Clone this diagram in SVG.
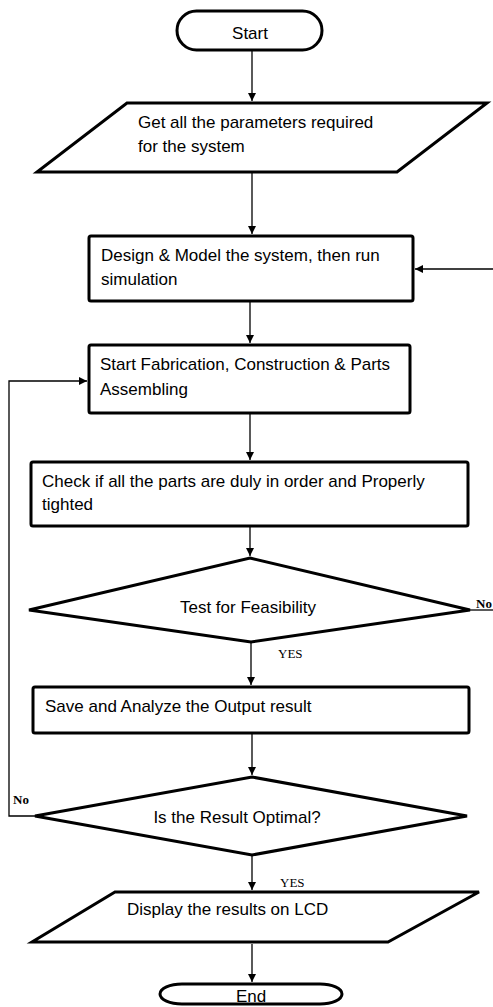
<svg xmlns="http://www.w3.org/2000/svg" width="493" height="1007" viewBox="0 0 493 1007">
<style>
.shape{fill:#fff;stroke:#000;stroke-width:3;stroke-linejoin:miter}
.conn{fill:none;stroke:#000;stroke-width:1.3}
.t{font-family:"Liberation Sans",Arial,sans-serif;fill:#000;font-size:17px}
.lbl{font-family:"Liberation Serif","Times New Roman",serif;fill:#000;font-size:13px}
</style>
<defs>
<marker id="arr" markerWidth="10" markerHeight="10" refX="8" refY="4" orient="auto" markerUnits="userSpaceOnUse">
<path d="M0,0 L8,4 L0,8 Z" fill="#000"/>
</marker>
</defs>
<rect width="493" height="1007" fill="#fff"/>
<g id="connectors">
<line class="conn" x1="252" y1="51" x2="252" y2="101" marker-end="url(#arr)"/>
<line class="conn" x1="252" y1="173" x2="252" y2="234" marker-end="url(#arr)"/>
<line class="conn" x1="493" y1="269" x2="415" y2="269" marker-end="url(#arr)"/>
<line class="conn" x1="250" y1="302" x2="250" y2="343" marker-end="url(#arr)"/>
<line class="conn" x1="250" y1="414" x2="250" y2="460" marker-end="url(#arr)"/>
<line class="conn" x1="250" y1="527" x2="250" y2="556" marker-end="url(#arr)"/>
<line class="conn" x1="470" y1="610" x2="493" y2="610"/>
<line class="conn" x1="251" y1="643" x2="251" y2="685" marker-end="url(#arr)"/>
<line class="conn" x1="252" y1="734" x2="252" y2="775" marker-end="url(#arr)"/>
<polyline class="conn" points="35,816 9,816 9,381 87,381" marker-end="url(#arr)"/>
<line class="conn" x1="252" y1="856" x2="252" y2="890" marker-end="url(#arr)"/>
<line class="conn" x1="252" y1="944" x2="252" y2="982" marker-end="url(#arr)"/>
<text class="lbl" x="476" y="608" font-weight="bold">No</text>
<text class="lbl" x="278" y="658">YES</text>
<text class="lbl" x="13" y="804" font-weight="bold">No</text>
<text class="lbl" x="280" y="887">YES</text>
</g>
<g id="start">
<rect class="shape" x="177" y="11" width="145" height="39" rx="19.5"/>
<text class="t" x="250" y="39" text-anchor="middle" font-size="19">Start</text>
</g>
<g id="params">
<polygon class="shape" points="127,103 487,103 397,172 37,172"/>
<text class="t" x="138" y="128">Get all the parameters required</text>
<text class="t" x="138" y="152">for the system</text>
</g>
<g id="design">
<rect class="shape" x="89" y="236" width="324" height="65" rx="2"/>
<text class="t" x="101" y="261">Design &amp; Model the system, then run</text>
<text class="t" x="101" y="285">simulation</text>
</g>
<g id="fabrication">
<rect class="shape" x="89" y="345" width="321" height="68" rx="2"/>
<text class="t" x="100" y="370">Start Fabrication, Construction &amp; Parts</text>
<text class="t" x="100" y="395">Assembling</text>
</g>
<g id="check">
<rect class="shape" x="31" y="462" width="437" height="64" rx="2"/>
<text class="t" x="42" y="487">Check if all the parts are duly in order and Properly</text>
<text class="t" x="42" y="510">tighted</text>
</g>
<g id="feasibility">
<polygon class="shape" points="250,558 470,610 251,642 29,610"/>
<text class="t" x="248" y="613" text-anchor="middle" font-size="16">Test for Feasibility</text>
</g>
<g id="save">
<rect class="shape" x="33" y="687" width="436" height="46" rx="2"/>
<text class="t" x="45" y="712" font-size="15.5">Save and Analyze the Output result</text>
</g>
<g id="optimal">
<polygon class="shape" points="252,777 467,816 252,855 35,816"/>
<text class="t" x="237" y="823" text-anchor="middle" font-size="16.5">Is the Result Optimal?</text>
</g>
<g id="display">
<polygon class="shape" points="115,892 479,892 388,942 32,942"/>
<text class="t" x="127" y="915" font-size="16.5">Display the results on LCD</text>
</g>
<g id="end">
<rect class="shape" x="160" y="984" width="182" height="20" rx="22" ry="10"/>
<text class="t" x="251" y="1002" text-anchor="middle" font-size="15">End</text>
</g>
</svg>
